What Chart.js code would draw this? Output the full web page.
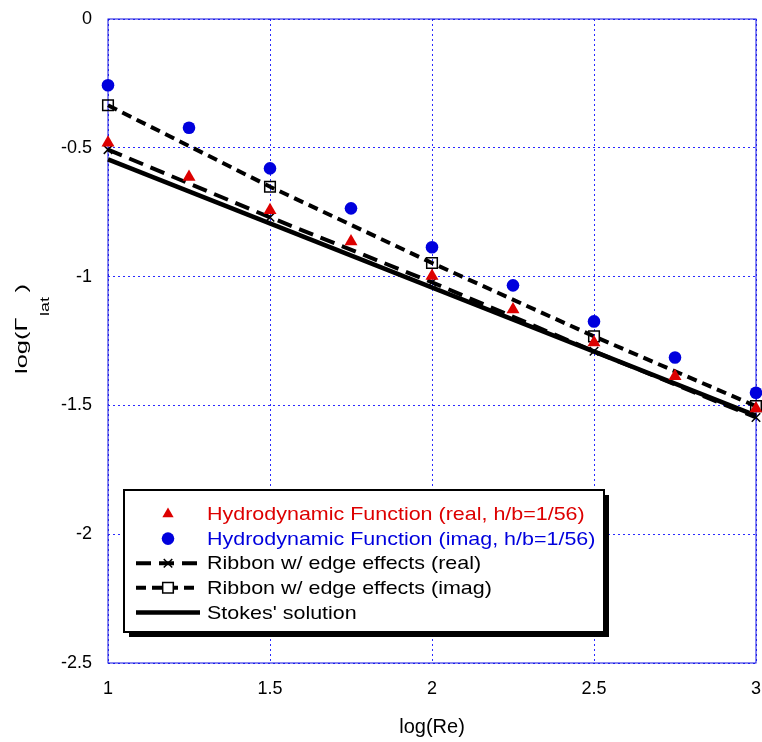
<!DOCTYPE html>
<html>
<head>
<meta charset="utf-8">
<script src="https://cdn.jsdelivr.net/npm/chart.js@4/dist/chart.umd.min.js"></script>
<style>
  html, body { margin: 0; padding: 0; background: #fff; }
  #chart { display: block; }
</style>
</head>
<body>
<canvas id="chart" width="762" height="742"></canvas>
<script>
// values
const hfX = [1, 1.25, 1.5, 1.75, 2, 2.25, 2.5, 2.75, 3];
const hfReal = [-0.48, -0.613, -0.742, -0.864, -0.998, -1.128, -1.256, -1.387, -1.512];
const hfImag = [-0.257, -0.422, -0.58, -0.735, -0.886, -1.034, -1.174, -1.314, -1.451];
const ribbonX = [1, 1.5, 2, 2.5, 3];
const ribbonReal = [-0.507, -0.77, -1.022, -1.29, -1.547];
const ribbonImag = [-0.335, -0.651, -0.947, -1.232, -1.503];
const stokesX = [1, 3];
const stokes = [-0.545, -1.54];
const xTicks = [1, 1.5, 2, 2.5, 3];
const yTicks = [0, -0.5, -1, -1.5, -2, -2.5];
const labels = [
  'Hydrodynamic Function (real, h/b=1/56)',
  'Hydrodynamic Function (imag, h/b=1/56)',
  'Ribbon w/ edge effects (real)',
  'Ribbon w/ edge effects (imag)',
  "Stokes' solution"
];

const RED = '#dd0000';
const BLUE = '#0000dd';
const FONT = '"Liberation Sans", Arial, Helvetica, sans-serif';

const pts = (xs, ys) => xs.map((x, i) => ({ x: x, y: ys[i] }));

const datasets = [
  {
    label: labels[0], data: pts(hfX, hfReal), showLine: false,
    pointStyle: 'triangle', pointRadius: 7.5, pointBorderWidth: 0,
    pointBackgroundColor: RED, pointBorderColor: RED, textColor: RED
  },
  {
    label: labels[1], data: pts(hfX, hfImag), showLine: false,
    pointStyle: 'circle', pointRadius: 6.3, pointBorderWidth: 0,
    pointBackgroundColor: BLUE, pointBorderColor: BLUE, textColor: BLUE
  },
  {
    label: labels[2], data: pts(ribbonX, ribbonReal), showLine: true,
    borderColor: '#000', borderWidth: 4, borderDash: [15, 8],
    pointStyle: 'crossRot', pointRadius: 6, pointBorderWidth: 1.5,
    pointBackgroundColor: '#000', pointBorderColor: '#000', textColor: '#000'
  },
  {
    label: labels[3], data: pts(ribbonX, ribbonImag), showLine: true,
    borderColor: '#000', borderWidth: 4, borderDash: [10, 6],
    pointStyle: 'rect', pointRadius: 7.5, pointBorderWidth: 1.5,
    pointBackgroundColor: 'rgba(0,0,0,0)', pointBorderColor: '#000', textColor: '#000'
  },
  {
    label: labels[4], data: pts(stokesX, stokes), showLine: true,
    borderColor: '#000', borderWidth: 4.5, pointRadius: 0, textColor: '#000'
  }
];
datasets.forEach(d => { d.clip = false; d.pointHoverRadius = d.pointRadius; });

// solid blue frame round the plot area
const frame = {
  id: 'frame',
  beforeDatasetsDraw(chart) {
    const { ctx, chartArea: a } = chart;
    ctx.save();
    ctx.strokeStyle = '#1010e0';
    ctx.lineWidth = 1;
    ctx.strokeRect(a.left, a.top, a.right - a.left, a.bottom - a.top);
    ctx.restore();
  }
};

// y title with subscript
const yTitle = {
  id: 'yTitle',
  afterDraw(chart) {
    const ctx = chart.ctx;
    ctx.save();
    ctx.translate(27, 374);
    ctx.rotate(-Math.PI / 2);
    ctx.scale(1.5, 1);
    ctx.fillStyle = '#000';
    ctx.textBaseline = 'alphabetic';
    ctx.font = '17px ' + FONT;
    ctx.fillText('log(\u0393', 0, 0);
    let w = ctx.measureText('log(\u0393').width + 1;
    ctx.font = '12px ' + FONT;
    ctx.fillText('lat', w, 22);
    w += ctx.measureText('lat').width + 3;
    ctx.font = '17px ' + FONT;
    ctx.fillText(')', w, 0);
    ctx.restore();
  }
};

// boxed legend with drop shadow
const boxLegend = {
  id: 'boxLegend',
  afterDraw(chart) {
    const ctx = chart.ctx;
    const bx = 124, by = 490, bw = 480, bh = 142;
    ctx.save();
    ctx.fillStyle = '#000';
    ctx.fillRect(bx + 5, by + 5, bw, bh);
    ctx.fillStyle = '#fff';
    ctx.fillRect(bx, by, bw, bh);
    ctx.strokeStyle = '#000';
    ctx.lineWidth = 2;
    ctx.strokeRect(bx, by, bw, bh);

    chart.data.datasets.forEach((d, i) => {
      const y = 514 + i * 24.6;
      if (d.showLine) {
        ctx.save();
        ctx.strokeStyle = d.borderColor;
        ctx.lineWidth = d.borderWidth;
        ctx.setLineDash(d.borderDash || []);
        ctx.beginPath();
        ctx.moveTo(136, y);
        ctx.lineTo(200, y);
        ctx.stroke();
        ctx.restore();
      }
      if (d.pointRadius > 0) {
        ctx.save();
        ctx.fillStyle = d.pointBackgroundColor;
        ctx.strokeStyle = d.pointBorderColor;
        ctx.lineWidth = d.pointBorderWidth;
        if (d.pointStyle === 'rect') {
          ctx.fillStyle = '#fff';
        }
        Chart.helpers.drawPoint(ctx, {
          pointStyle: d.pointStyle, rotation: 0,
          radius: d.pointStyle === 'triangle' ? 6.5 : d.pointRadius,
          borderWidth: d.pointBorderWidth
        }, 168, y);
        ctx.restore();
      }
      ctx.save();
      ctx.translate(207, y);
      ctx.scale(1.13, 1);
      ctx.fillStyle = d.textColor;
      ctx.font = '19px ' + FONT;
      ctx.textBaseline = 'middle';
      ctx.fillText(d.label, 0, 1);
      ctx.restore();
    });
    ctx.restore();
  }
};

const gridOpts = { color: '#2a2aff', lineWidth: 1, drawTicks: false };
const borderOpts = { display: false, dash: [2, 3] };

new Chart(document.getElementById('chart'), {
  type: 'scatter',
  data: { datasets: datasets },
  options: {
    responsive: false,
    animation: false,
    layout: { autoPadding: false, padding: { top: 19, right: 6, left: 0, bottom: 0 } },
    plugins: { legend: { display: false }, tooltip: { enabled: false } },
    scales: {
      x: {
        type: 'linear', min: 1, max: 3,
        afterBuildTicks: s => { s.ticks = xTicks.map(v => ({ value: v })); },
        afterFit: s => { s.height = 79; s.paddingLeft = 0; s.paddingRight = 0; },
        grid: gridOpts, border: borderOpts,
        ticks: {
          padding: 15, color: '#000', maxRotation: 0,
          font: { family: FONT, size: 18 },
          callback: v => String(v)
        },
        title: {
          display: true, text: 'log(Re)', color: '#000',
          font: { family: FONT, size: 20 },
          padding: { top: 0, bottom: 3 }
        }
      },
      y: {
        type: 'linear', min: -2.5, max: 0,
        afterBuildTicks: s => { s.ticks = yTicks.map(v => ({ value: v })); },
        afterFit: s => { s.width = 108; s.paddingTop = 0; s.paddingBottom = 0; },
        grid: gridOpts, border: borderOpts,
        ticks: {
          padding: 16, color: '#000',
          font: { family: FONT, size: 18 },
          callback: v => String(v)
        }
      }
    }
  },
  plugins: [frame, yTitle, boxLegend]
});
</script>
</body>
</html>
